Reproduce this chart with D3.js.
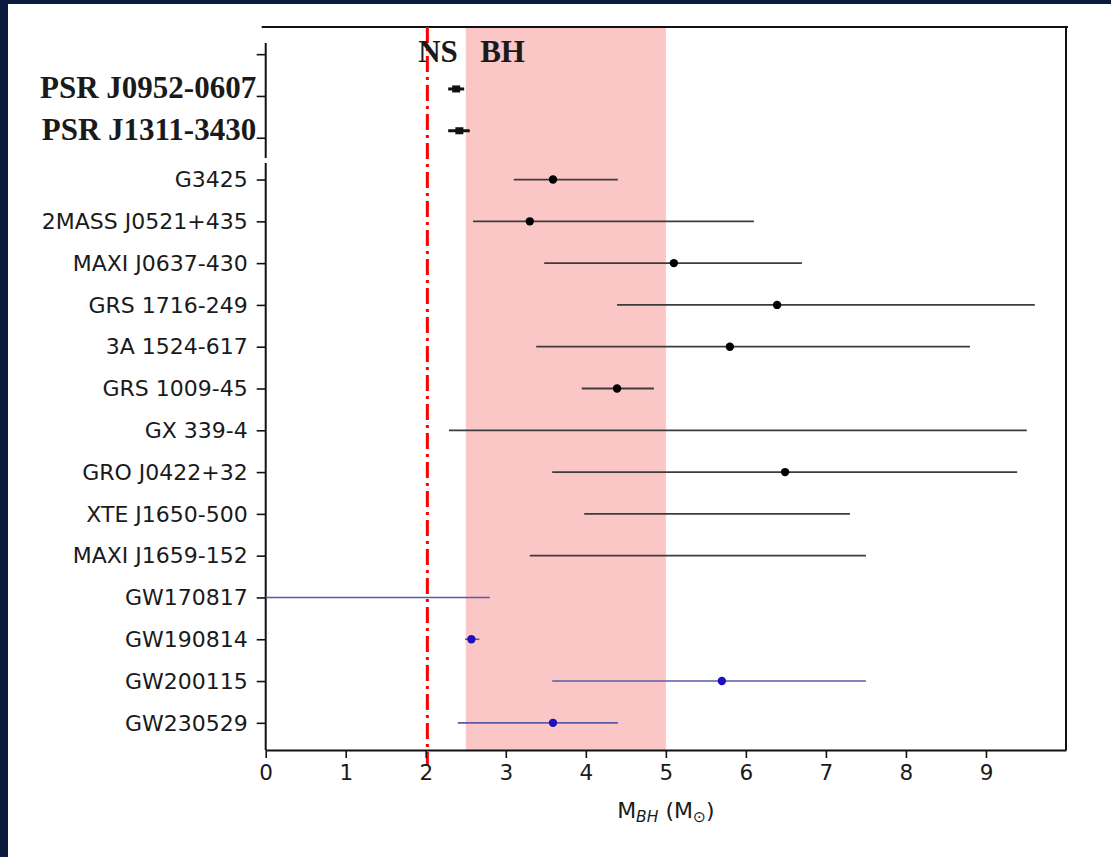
<!DOCTYPE html>
<html>
<head>
<meta charset="utf-8">
<script src="https://cdn.jsdelivr.net/npm/d3@7"></script>
<style>
  html, body { margin: 0; padding: 0; background: #0b1a3d; }
  svg { display: block; }
</style>
</head>
<body>
<svg id="chart" width="1111" height="857"></svg>
<script>
// ---------------- data ----------------
const categories = ["", "PSR J0952-0607", "PSR J1311-3430", "G3425", "2MASS J0521+435",
  "MAXI J0637-430", "GRS 1716-249", "3A 1524-617", "GRS 1009-45", "GX 339-4",
  "GRO J0422+32", "XTE J1650-500", "MAXI J1659-152", "GW170817", "GW190814",
  "GW200115", "GW230529"];
const groups = ["none", "psr", "psr", "xrb", "xrb", "xrb", "xrb", "xrb", "xrb", "xrb",
  "xrb", "xrb", "xrb", "gw", "gw", "gw", "gw"];
const massLow  = [null, 2.28, 2.28, 3.10, 2.59, 3.48, 4.39, 3.38, 3.95, 2.29, 3.58, 3.98, 3.30, 0.00, 2.49, 3.58, 2.40];
const massHigh = [null, 2.48, 2.55, 4.40, 6.10, 6.70, 9.61, 8.80, 4.85, 9.51, 9.39, 7.30, 7.50, 2.80, 2.67, 7.50, 4.40];
const massBest = [null, 2.38, 2.42, 3.59, 3.30, 5.10, 6.39, 5.80, 4.39, null, 6.49, null, null, null, 2.57, 5.70, 3.59];
const xTicks = [0, 1, 2, 3, 4, 5, 6, 7, 8, 9];
const nsMaxMass = 2.02;
const massGap = [2.5, 5.0];
const regionLabels = ["NS", "BH"];

// ---------------- layout ----------------
const W = 1111, H = 857;
const plot = { left: 265.7, right: 1066, top: 27, bottom: 750 };
const svg = d3.select("#chart");

// background: space strip + white panel
svg.append("rect").attr("x", 0).attr("y", 0).attr("width", W).attr("height", H).attr("fill", "#0b1a3d");
svg.append("rect").attr("x", 8).attr("y", 4).attr("width", W - 8).attr("height", H - 4).attr("fill", "#ffffff");

const x = d3.scaleLinear().domain([0, 10]).range([plot.left, plot.right]);
const y = d3.scalePoint().domain(categories).range([plot.top, plot.bottom]).padding(0.65);

const rows = categories.map((c, i) => ({
  name: c, group: groups[i], lo: massLow[i], hi: massHigh[i], best: massBest[i]
}));

// mass gap band
svg.append("rect")
  .attr("x", x(massGap[0])).attr("y", plot.top)
  .attr("width", x(massGap[1]) - x(massGap[0]))
  .attr("height", plot.bottom - plot.top)
  .attr("fill", "#fbc6c6");

// frame
const frame = svg.append("g").attr("stroke", "#111").attr("stroke-width", 2).attr("fill", "none");
frame.append("line").attr("x1", plot.left - 4).attr("x2", plot.right + 2).attr("y1", plot.top).attr("y2", plot.top);
frame.append("line").attr("x1", plot.right).attr("x2", plot.right).attr("y1", plot.top).attr("y2", plot.bottom);
// left spine (pasted inset has a separate piece)
frame.append("line").attr("x1", plot.left).attr("x2", plot.left).attr("y1", plot.top + 16).attr("y2", plot.top + 131);
frame.append("line").attr("x1", plot.left).attr("x2", plot.left).attr("y1", plot.top + 136).attr("y2", plot.bottom);

// NS limit line (dash-dot)
svg.append("line")
  .attr("x1", x(nsMaxMass)).attr("x2", x(nsMaxMass))
  .attr("y1", plot.top).attr("y2", plot.bottom + 15)
  .attr("stroke", "#ff0000").attr("stroke-width", 3)
  .attr("stroke-dasharray", "16,5,3,5");

// x axis
const xAxis = d3.axisBottom(x).tickValues(xTicks).tickFormat(d3.format("d")).tickSize(8).tickSizeOuter(0).tickPadding(7);
const gx = svg.append("g").attr("transform", `translate(0,${plot.bottom})`).call(xAxis);
gx.select(".domain").attr("stroke", "#111").attr("stroke-width", 2);
gx.selectAll(".tick line").attr("stroke", "#111").attr("stroke-width", 1.6);
gx.selectAll(".tick text").attr("font-family", "DejaVu Sans").attr("font-size", 21.5).attr("fill", "#1a1a1a");

// y axis
const yAxis = d3.axisLeft(y).tickSize(9).tickPadding(8);
const gy = svg.append("g").attr("transform", `translate(${plot.left},0)`).call(yAxis);
gy.select(".domain").remove();
gy.selectAll(".tick line").attr("stroke", "#111").attr("stroke-width", 1.6);
gy.selectAll(".tick text")
  .attr("fill", "#1a1a1a")
  .attr("font-family", (d, i) => groups[i] === "psr" ? "Liberation Serif" : "DejaVu Sans")
  .attr("font-weight", (d, i) => groups[i] === "psr" ? "bold" : "normal")
  .attr("font-size", (d, i) => groups[i] === "psr" ? 31 : 22)
  .attr("x", (d, i) => groups[i] === "psr" ? -9.5 : -18)
  .attr("dy", (d, i) => groups[i] === "psr" ? "0.05em" : "0.33em");

// region labels NS / BH
svg.append("text").text(regionLabels[0])
  .attr("x", x(2.4)).attr("y", plot.top + 35)
  .attr("text-anchor", "end")
  .attr("font-family", "Liberation Serif").attr("font-weight", "bold").attr("font-size", 31)
  .attr("fill", "#1a1a1a");
svg.append("text").text(regionLabels[1])
  .attr("x", x(2.68)).attr("y", plot.top + 35)
  .attr("text-anchor", "start")
  .attr("font-family", "Liberation Serif").attr("font-weight", "bold").attr("font-size", 31)
  .attr("fill", "#1a1a1a");

// x-axis label
const xl = svg.append("text")
  .attr("x", (plot.left + plot.right) / 2).attr("y", 818)
  .attr("text-anchor", "middle")
  .attr("font-family", "DejaVu Sans").attr("font-size", 22).attr("fill", "#1a1a1a");
xl.append("tspan").text("M");
xl.append("tspan").text("BH").attr("font-style", "italic").attr("font-size", 15.5).attr("dy", 4);
xl.append("tspan").text(" (M").attr("dy", -4);
xl.append("tspan").text("\u2299").attr("font-size", 15.5).attr("dy", 4);
xl.append("tspan").text(")").attr("dy", -4);

// styles per group
const style = {
  psr: { line: "#111", lw: 3, pt: "#111", offset: -7 },
  xrb: { line: "#3c3c3c", lw: 1.8, pt: "#000", offset: 0 },
  gw:  { line: "#5a5aa8", lw: 1.6, pt: "#1e10c0", offset: 0 }
};

const marks = svg.append("g");
const dataRows = rows.filter(r => r.lo !== null);

marks.selectAll("line.err").data(dataRows).join("line")
  .attr("class", "err")
  .attr("x1", d => x(d.lo)).attr("x2", d => x(d.hi))
  .attr("y1", d => y(d.name) + style[d.group].offset)
  .attr("y2", d => y(d.name) + style[d.group].offset)
  .attr("stroke", d => style[d.group].line)
  .attr("stroke-width", d => style[d.group].lw);

// circle points
marks.selectAll("circle.pt").data(dataRows.filter(d => d.best !== null && d.group !== "psr")).join("circle")
  .attr("class", "pt")
  .attr("cx", d => x(d.best)).attr("cy", d => y(d.name))
  .attr("r", 4.2)
  .attr("fill", d => style[d.group].pt);

// square points for pulsars
marks.selectAll("rect.pt").data(dataRows.filter(d => d.best !== null && d.group === "psr")).join("rect")
  .attr("class", "pt")
  .attr("x", d => x(d.best) - 4).attr("y", d => y(d.name) + style[d.group].offset - 3.5)
  .attr("width", 8).attr("height", 7)
  .attr("fill", d => style[d.group].pt);
</script>
</body>
</html>
